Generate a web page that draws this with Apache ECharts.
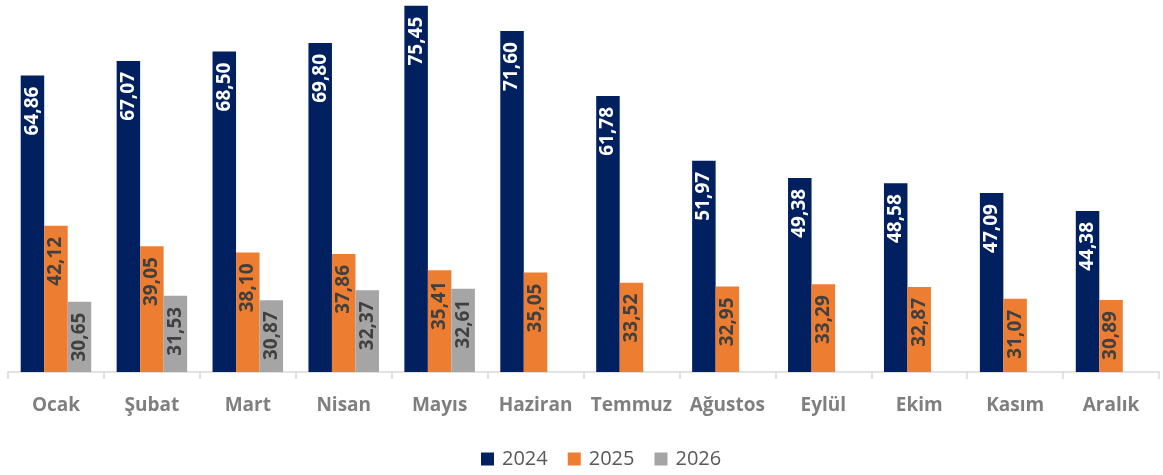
<!DOCTYPE html>
<html>
<head>
<meta charset="utf-8">
<title>Aylık grafik</title>
<script src="https://cdn.jsdelivr.net/npm/echarts@6/dist/echarts.min.js"></script>
<style>
  html, body { margin: 0; padding: 0; background: #fff; }
  #main { width: 1163px; height: 475px; }
</style>
</head>
<body>
<div id="main"></div>
<script>
var months = ['Ocak', 'Şubat', 'Mart', 'Nisan', 'Mayıs', 'Haziran', 'Temmuz', 'Ağustos', 'Eylül', 'Ekim', 'Kasım', 'Aralık'];
var years = ['2024', '2025', '2026'];
var v2024 = [64.86, 67.07, 68.50, 69.80, 75.45, 71.60, 61.78, 51.97, 49.38, 48.58, 47.09, 44.38];
var v2025 = [42.12, 39.05, 38.10, 37.86, 35.41, 35.05, 33.52, 32.95, 33.29, 32.87, 31.07, 30.89];
var v2026 = [30.65, 31.53, 30.87, 32.37, 32.61, null, null, null, null, null, null, null];
var colors = ['#002060', '#ED7D31', '#A5A5A5'];
var labelColors = ['#ffffff', '#404040', '#404040'];

var font = '"Open Sans", "DejaVu Sans", sans-serif';

function fmt(p) {
  return p.value == null ? '' : p.value.toFixed(2).replace('.', ',');
}

var series = [];
var all = [v2024, v2025, v2026];
for (var i = 0; i < 3; i++) {
  series.push({
    name: years[i],
    type: 'bar',
    data: all[i],
    barWidth: 23.5,
    barGap: '0%',
    itemStyle: { color: colors[i] },
    label: {
      show: true,
      position: 'insideTop',
      rotate: 90,
      align: 'right',
      verticalAlign: 'middle',
      distance: 11,
      color: labelColors[i],
      fontFamily: font,
      fontWeight: 'bold',
      fontSize: 19,
      formatter: fmt
    }
  });
}

var chart = echarts.init(document.getElementById('main'));
chart.setOption({
  animation: false,
  color: colors,
  grid: { left: 8, right: 4, top: 2, bottom: 103, outerBoundsMode: 'none' },
  legend: {
    bottom: 1,
    left: 476,
    itemWidth: 13,
    itemHeight: 13,
    itemGap: 20,
    icon: 'rect',
    textStyle: { color: '#595959', fontFamily: font, fontSize: 20, padding: [0, 0, 0, 3] },
    data: years
  },
  xAxis: {
    type: 'category',
    data: months,
    axisLine: { lineStyle: { color: '#D9D9D9', width: 1.5 } },
    axisTick: { show: true, interval: 0, length: 7, lineStyle: { color: '#D9D9D9', width: 1.5 } },
    axisLabel: {
      interval: 0,
      hideOverlap: false,
      color: '#7F7F7F',
      fontFamily: font,
      fontWeight: 'bold',
      fontSize: 19,
      margin: 24,
      alignMinLabel: 'center',
      alignMaxLabel: 'center'
    }
  },
  yAxis: {
    type: 'value',
    min: 20,
    max: 76,
    show: false,
    splitLine: { show: false }
  },
  series: series
});
</script>
</body>
</html>
